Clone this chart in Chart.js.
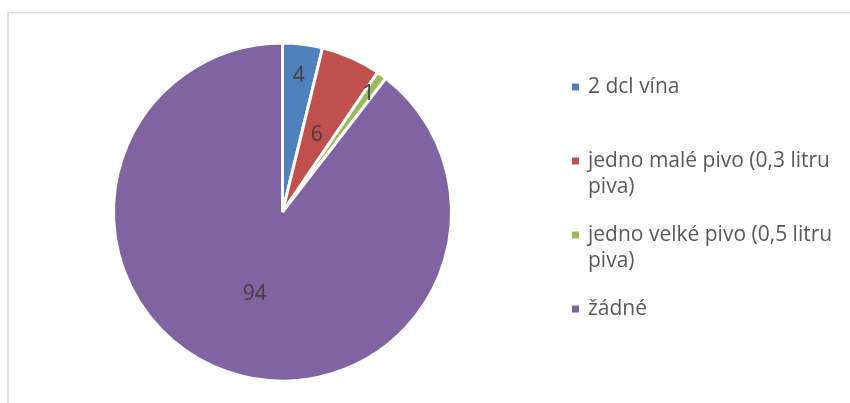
<!DOCTYPE html>
<html><head><meta charset="utf-8">
<script src="https://cdn.jsdelivr.net/npm/chart.js@4/dist/chart.umd.min.js"></script>
<style>html,body{margin:0;padding:0;background:#fff}</style>
</head><body><canvas id="c" width="850" height="403"></canvas>
<script>
const categories = ["2 dcl vína", "jedno malé pivo (0,3 litru piva)", "jedno velké pivo (0,5 litru piva)", "žádné"];
const values = [4, 6, 1, 94];
const colors = ["#4F81BD", "#C0504D", "#9BBB59", "#8064A2"];

const FONT = '21px "Open Sans"';

const frame = {
  id: 'frame',
  beforeDraw(chart) {
    const ctx = chart.ctx;
    ctx.save();
    ctx.fillStyle = '#fff'; ctx.fillRect(0, 0, chart.width, chart.height);
    ctx.strokeStyle = '#d9d9d9';
    ctx.lineWidth = 1.5;
    ctx.beginPath(); ctx.moveTo(8, 403); ctx.lineTo(8, 12.5); ctx.lineTo(850, 12.5); ctx.stroke();
    ctx.restore();
  }
};

const labelFrac = [0.81, 0.5, 0.865, 0.51];
const dataLabels = {
  id: 'dataLabels',
  afterDatasetsDraw(chart) {
    const ctx = chart.ctx;
    const meta = chart.getDatasetMeta(0);
    ctx.save();
    ctx.font = FONT;
    ctx.fillStyle = '#404040';
    ctx.textAlign = 'center'; ctx.textBaseline = 'middle';
    meta.data.forEach((arc, i) => {
      const p = arc.getProps(['x', 'y', 'startAngle', 'endAngle', 'outerRadius'], true);
      const a = (p.startAngle + p.endAngle) / 2;
      const r = p.outerRadius * labelFrac[i];
      ctx.fillText(String(chart.data.datasets[0].data[i]), p.x + Math.cos(a) * r, p.y + Math.sin(a) * r);
    });
    ctx.restore();
  }
};

const legendPlug = {
  id: 'sideLegend',
  afterDraw(chart) {
    const ctx = chart.ctx;
    ctx.save();
    ctx.font = FONT;
    ctx.textBaseline = 'middle';
    const x0 = 572, tx = 588, maxW = 255, y0 = 87, step = 74, lh = 26;
    chart.data.labels.forEach((lab, i) => {
      const y = y0 + i * step;
      ctx.fillStyle = chart.data.datasets[0].backgroundColor[i];
      ctx.fillRect(x0, y - 3.5, 7, 7);
      ctx.fillStyle = '#595959';
      const words = lab.split(' ');
      const lines = []; let cur = '';
      for (const w of words) {
        const t = cur ? cur + ' ' + w : w;
        if (ctx.measureText(t).width > maxW && cur) { lines.push(cur); cur = w; } else cur = t;
      }
      lines.push(cur);
      lines.forEach((l, j) => ctx.fillText(l, tx, y + j * lh));
    });
    ctx.restore();
  }
};

new Chart(document.getElementById('c'), {
  type: 'pie',
  data: { labels: categories, datasets: [{ data: values, backgroundColor: colors, borderColor: '#fff', borderWidth: 3 }] },
  options: {
    responsive: false, animation: false, radius: 169,
    layout: { padding: { left: 100, right: 385, top: 40, bottom: 19 } },
    plugins: { legend: { display: false }, tooltip: { enabled: false } }
  },
  plugins: [frame, dataLabels, legendPlug]
});
</script></body></html>
